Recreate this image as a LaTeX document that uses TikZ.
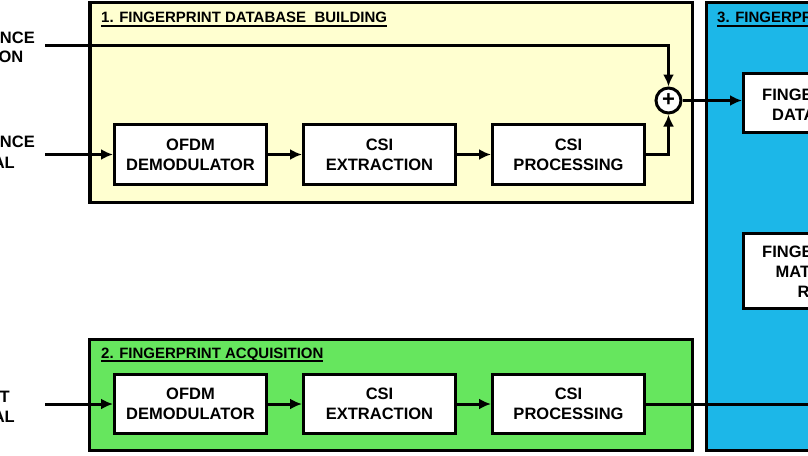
\documentclass[tikz,border=0pt]{standalone}
\usepackage{fontspec}
\setmainfont{Liberation Sans}
\usetikzlibrary{positioning,shapes,arrows.meta}
\definecolor{dbyellow}{RGB}{255,255,208}
\definecolor{acqgreen}{RGB}{102,230,94}
\definecolor{posblue}{RGB}{28,183,232}
\newcommand\ttlul[1]{\setbox0\hbox{#1}\rlap{\rule[-3.5pt]{\wd0}{1.6pt}}\box0}

\begin{document}
\begin{tikzpicture}[
		x=1pt,y=-1pt,
		node distance=1cm and 34pt,
		font=\fontsize{16.5}{20}\selectfont\bfseries,
		blk/.style={draw,line width=3pt,fill=white,minimum width=152pt,minimum height=60pt,align=center,inner sep=0pt},
		panel/.style={draw,line width=3.5pt},
		ttl/.style={anchor=base west,inner sep=0pt,font=\fontsize{15}{18}\selectfont\bfseries},
		lbl/.style={anchor=east,inner sep=0pt},
		frag/.style={anchor=west,inner sep=0pt},
		sig/.style={line width=3pt,-{Latex[length=12pt,width=11pt]}}
		]
		\useasboundingbox (0,0) rectangle (808,455);
		\clip (0,0) rectangle (808,455);
		% the three panels
		\draw[panel,fill=dbyellow] (90,2.5) rectangle (692.5,202.5);
		\draw[panel,fill=acqgreen] (89.5,339.5) rectangle (692.5,450.5);
		\draw[panel,fill=posblue] (706.5,2.5) rectangle (840,450.5);
		\node[ttl] (build) at (101,23) {\ttlul{1. FINGERPRINT DATABASE\ \ BUILDING}};
		\node[ttl] (acq) at (101,358) {\ttlul{2. FINGERPRINT ACQUISITION}};
		\node[ttl] (pos) at (717,23) {\ttlul{3. FINGERPR}};
		% inputs on the left
		\node[lbl] (posa) at (35,37.5) {NCE};
		\node[lbl] (posb) at (23.5,57) {ON};
		\node[lbl] (rssa) at (35,142) {NCE};
		\node[lbl] (rssb) at (15,162.5) {AL};
		\node[lbl] (testa) at (10,397) {T};
		\node[lbl] (testb) at (15,417) {AL};
		\coordinate (posin) at (45,45);
		\coordinate (rssin) at (45,154.5);
		\coordinate (testin) at (45,404);
		% database building chain
		\node[blk] (ofdmA) at (190.5,154.5) {OFDM\\DEMODULATOR};
		\node[blk,right=of ofdmA] (csiA) {CSI\\EXTRACTION};
		\node[blk,right=of csiA] (procA) {CSI\\PROCESSING};
		\node[draw,circle,line width=3pt,fill=white,minimum size=25pt,inner sep=0pt,font=\fontsize{22}{22}\selectfont\bfseries] (sum) at (668.5,100.5) {+};
		% acquisition chain
		\node[blk,minimum height=59pt] (ofdmB) at (190.5,404) {OFDM\\DEMODULATOR};
		\node[blk,minimum height=59pt,right=of ofdmB] (csiB) {CSI\\EXTRACTION};
		\node[blk,minimum height=59pt,right=of csiB] (procB) {CSI\\PROCESSING};
		\coordinate (posout) at (830,404);
		% positioning blocks
		\node[blk,anchor=west,minimum height=59pt] (db) at (742,102.5) {};
		\node[frag] (dba) at (762,94.5) {FINGE};
		\node[frag] (dbb) at (772,114.5) {DATA};
		\node[blk,anchor=west,minimum height=75pt] (match) at (742,271) {};
		\node[frag] (mata) at (762,252) {FINGE};
		\node[frag] (matb) at (775.5,272) {MAT};
		\node[frag] (matc) at (797.5,292) {R};
		% connectors
		\draw[sig] (posin) -| (sum);
		\draw[sig] (rssin) -- (ofdmA);
		\path[sig]
		(ofdmA) edge (csiA)
		(csiA) edge (procA);
		\draw[sig] (procA) -| (sum);
		\draw[sig] (sum) -- (sum -| db.west);
		\draw[sig] (testin) -- (ofdmB);
		\path[sig]
		(ofdmB) edge (csiB)
		(csiB) edge (procB);
		\draw[line width=3pt] (procB) -- (posout);
	\end{tikzpicture}
\end{document}
